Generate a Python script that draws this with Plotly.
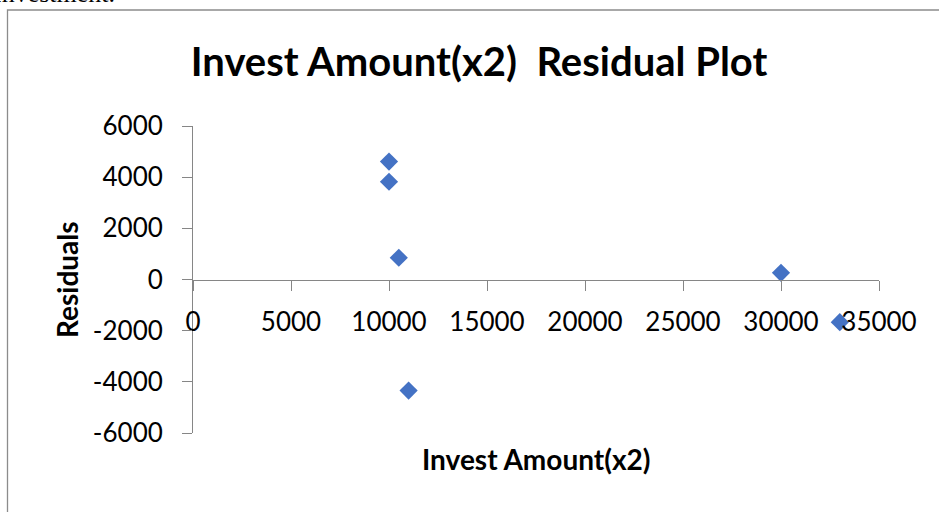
import plotly.graph_objects as go

# Residuals against the invest amount (x2)
invest_amount = [10000, 10000, 10500, 11000, 30000, 33000]
residuals = [4610, 3820, 850, -4340, 260, -1670]

x_ticks = [0, 5000, 10000, 15000, 20000, 25000, 30000, 35000]
y_ticks = [-6000, -4000, -2000, 0, 2000, 4000, 6000]

W, H = 939, 512
L, R, T, B = 193, 60, 126, 79
PW, PH = W - L - R, H - T - B


def px_x(p):
    return (p - L) / PW


def px_y(p):
    return (H - B - p) / PH


AXIS_GRAY = "#868686"
FONT = "Lato"

fig = go.Figure(
    go.Scatter(
        x=invest_amount,
        y=residuals,
        mode="markers",
        marker=dict(symbol="diamond", size=14, color="#4472C4"),
        showlegend=False,
        hoverinfo="x+y",
    )
)

fig.update_layout(
    width=W,
    height=H,
    margin=dict(l=L, r=R, t=T, b=B),
    paper_bgcolor="white",
    plot_bgcolor="white",
    font=dict(family=FONT, color="#000000"),
    title=dict(
        text="<b>Invest Amount(x2)  Residual Plot</b>",
        font=dict(family=FONT, size=40, color="#000000"),
        x=479 / W,
        xref="container",
        xanchor="center",
        y=1 - 62 / H,
        yref="container",
        yanchor="middle",
    ),
    xaxis=dict(
        range=[0, 35000],
        tickvals=x_ticks,
        ticktext=[str(v) for v in x_ticks],
        showgrid=False,
        zeroline=False,
        showline=True,
        linecolor=AXIS_GRAY,
        linewidth=1,
        ticks="outside",
        ticklen=10,
        tickcolor=AXIS_GRAY,
        tickfont=dict(family=FONT, size=26, color="#000000"),
        anchor="free",
        position=0.5,
        ticklabelstandoff=9,
    ),
    yaxis=dict(
        range=[-6000, 6000],
        tickvals=y_ticks,
        ticktext=[str(v) for v in y_ticks],
        showgrid=False,
        zeroline=False,
        showline=True,
        linecolor=AXIS_GRAY,
        linewidth=1,
        ticks="outside",
        ticklen=10,
        tickcolor=AXIS_GRAY,
        tickfont=dict(family=FONT, size=26, color="#000000"),
        ticklabelstandoff=14,
    ),
    annotations=[
        dict(
            text="<b>Invest Amount(x2)</b>",
            xref="paper", yref="paper",
            x=px_x(536), y=px_y(459),
            xanchor="center", yanchor="middle",
            showarrow=False,
            font=dict(family=FONT, size=28, color="#000000"),
        ),
        dict(
            text="<b>Residuals</b>",
            xref="paper", yref="paper",
            x=px_x(67), y=px_y(280),
            xanchor="center", yanchor="middle",
            textangle=-90,
            showarrow=False,
            font=dict(family=FONT, size=28, color="#000000"),
        ),
        dict(
            text="Investment.",
            xref="paper", yref="paper",
            x=px_x(117), y=px_y(10),
            xanchor="right", yanchor="bottom",
            showarrow=False,
            font=dict(family="Liberation Serif", size=26, color="#000000"),
        ),
    ],
    shapes=[
        dict(
            type="rect",
            xref="paper", yref="paper",
            x0=px_x(7.5), x1=px_x(960),
            y0=px_y(10), y1=px_y(540),
            line=dict(color="#8c8c8c", width=1.3),
            fillcolor="rgba(0,0,0,0)",
            layer="below",
        )
    ],
)

fig.write_html("out.html")
